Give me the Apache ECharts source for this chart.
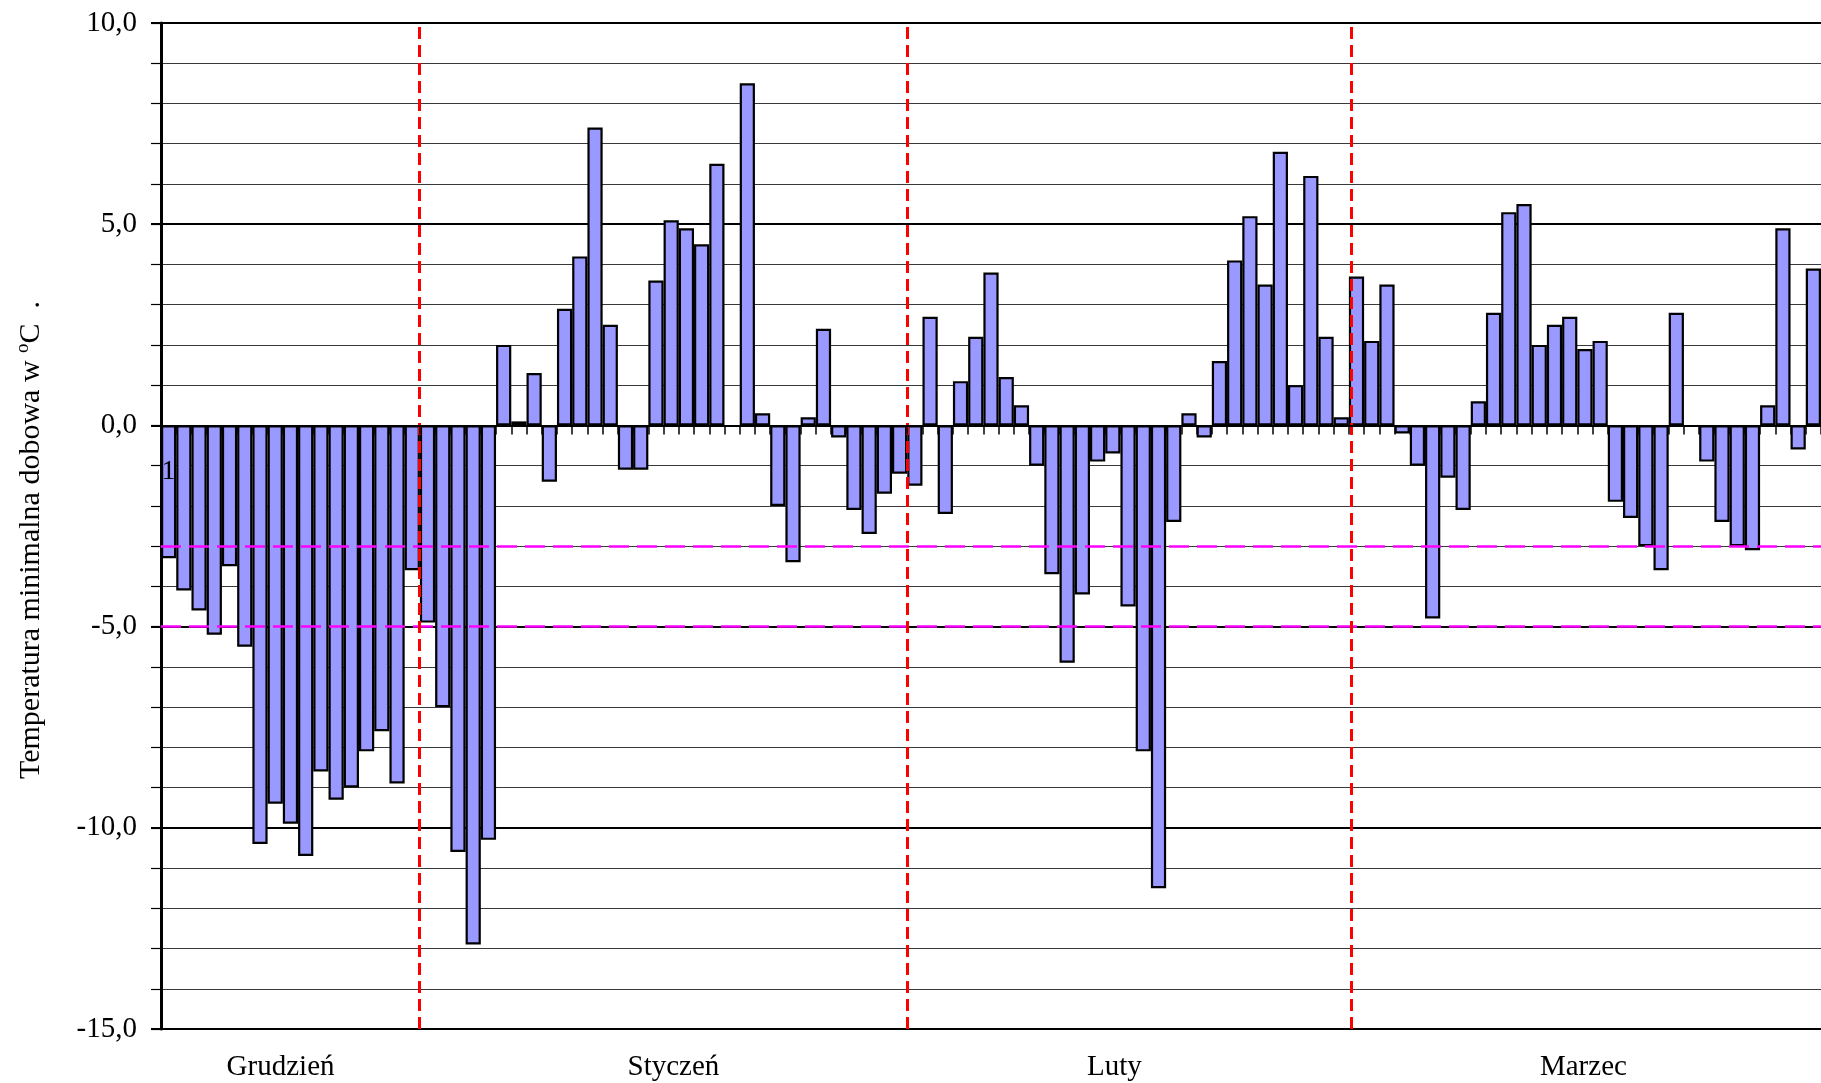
<!DOCTYPE html>
<html>
<head>
<meta charset="utf-8">
<script src="https://cdn.jsdelivr.net/npm/echarts@6/dist/echarts.min.js"></script>
<style>
html, body { margin: 0; padding: 0; background: #fff; }
#chart { width: 1821px; height: 1083px; }
</style>
</head>
<body>
<div id="chart"></div>
<script>
// dobowe temperatury minimalne, po kolei od pierwszego słupka
const decTemps = [-3.3, -4.1, -4.6, -5.2, -3.5, -5.5, -10.4, -9.4, -9.9, -10.7, -8.6, -9.3, -9.0, -8.1, -7.6, -8.9, -3.6]
const janTemps = [-4.9, -7.0, -10.6, -12.9, -10.3, 2.0, 0.1, 1.3, -1.4, 2.9, 4.2, 7.4, 2.5, -1.1, -1.1, 3.6,
  5.1, 4.9, 4.5, 6.5, null, 8.5, 0.3, -2.0, -3.4, 0.2, 2.4, -0.3, -2.1, -2.7, -1.7, -1.2]
const febTemps = [-1.5, 2.7, -2.2, 1.1, 2.2, 3.8, 1.2, 0.5, -1.0, -3.7, -5.9, -4.2, -0.9, -0.7, -4.5, -8.1,
  -11.5, -2.4, 0.3, -0.3, 1.6, 4.1, 5.2, 3.5, 6.8, 1.0, 6.2, 2.2, 0.2]
const marTemps = [3.7, 2.1, 3.5, -0.2, -1.0, -4.8, -1.3, -2.1, 0.6, 2.8, 5.3, 5.5, 2.0, 2.5, 2.7, 1.9,
  2.1, -1.9, -2.3, -3.0, -3.6, 2.8, null, -0.9, -2.4, -3.0, -3.1, 0.5, 4.9, -0.6, 3.9]

const temps = decTemps.concat(janTemps, febTemps, marTemps)
const days = temps.map((v, i) => String(i + 1))

const monthNames = ['Grudzień', 'Styczeń', 'Luty', 'Marzec']
const monthLabelPos = [7.85, 33.65, 62.6, 93.4]   // środek napisu, w jednostkach słupków
const monthBorders = [16.95, 49.0, 78.15]          // czerwone linie
const thresholds = [-3, -5]                         // linie różowe

const yTicks = { min: -15, max: 10, major: 5, minor: 1 }

const serif = '"Liberation Serif", "Times New Roman", serif'
const fmt = v => v.toFixed(1).replace('.', ',')

const chart = echarts.init(document.getElementById('chart'))
chart.setOption({
  animation: false,
  backgroundColor: '#fff',
  grid: { left: 161, top: 23, bottom: 54, right: -2, containLabel: false },
  xAxis: [
    {
      // oś na zerze - tylko kreski
      type: 'category',
      data: days,
      z: 5,
      axisLine: { onZero: true, lineStyle: { color: '#000', width: 2 } },
      axisTick: { show: true, length: 9, interval: 0, lineStyle: { color: '#000', width: 1.5 } },
      axisLabel: { show: false },
      splitLine: { show: false },
    },
    {
      type: 'value',
      min: 0,
      max: temps.length,
      position: 'bottom',
      axisLine: { onZero: false, lineStyle: { color: '#000', width: 2 } },
      axisTick: { show: false },
      splitLine: { show: false },
      axisLabel: {
        customValues: monthLabelPos,
        formatter: (v) => monthNames[monthLabelPos.indexOf(v)] || '',
        margin: 24,
        fontFamily: serif,
        fontSize: 29,
        color: '#000',
      },
    },
  ],
  yAxis: [
    {
      type: 'value',
      position: 'left',
      min: yTicks.min,
      max: yTicks.max,
      interval: yTicks.major,
      z: 2,
      axisLine: { show: true, lineStyle: { color: '#000', width: 3 } },
      axisTick: { show: true, length: 10, lineStyle: { color: '#000', width: 2 } },
      axisLabel: { formatter: fmt, margin: 24, fontFamily: serif, fontSize: 29, color: '#000' },
      splitLine: { show: true, lineStyle: { color: '#000', width: 2 } },
    },
    {
      type: 'value',
      position: 'left',
      min: yTicks.min,
      max: yTicks.max,
      interval: yTicks.minor,
      z: 1,
      axisLine: { show: false },
      axisTick: { show: true, length: 10, lineStyle: { color: '#000', width: 1.2 } },
      axisLabel: { show: false },
      splitLine: { show: true, lineStyle: { color: '#3a3a3a', width: 1 } },
    },
  ],
  series: [
    {
      type: 'bar',
      xAxisIndex: 0,
      yAxisIndex: 0,
      data: temps,
      barCategoryGap: '0%',
      itemStyle: { color: '#9999FF', borderColor: '#000', borderWidth: 2.2 },
      markLine: {
        silent: true,
        symbol: 'none',
        label: { show: false },
        lineStyle: { color: '#FF00FF', type: [20, 8], width: 2.5 },
        data: thresholds.map(v => ({ yAxis: v })),
      },
    },
    {
      type: 'line',
      xAxisIndex: 1,
      yAxisIndex: 0,
      data: [],
      markLine: {
        silent: true,
        symbol: 'none',
        label: { show: false },
        lineStyle: { color: '#FF0000', type: [12, 6], width: 3 },
        data: monthBorders.map(v => ({ xAxis: v })),
      },
    },
  ],
})

// etykieta "1" pierwszej kategorii i opis osi Y
const p0 = chart.convertToPixel({ xAxisIndex: 0, yAxisIndex: 0 }, [0, 0])
const yMid = chart.convertToPixel({ yAxisIndex: 0 }, (yTicks.min + yTicks.max) / 2)
const yLeft = chart.convertToPixel({ xAxisIndex: 1 }, 0)
chart.setOption({
  graphic: [
    {
      type: 'text',
      z: 100,
      x: p0[0],
      y: p0[1] + 46,
      style: {
        text: days[0],
        font: '28px ' + serif,
        fill: '#000',
        align: 'center',
        verticalAlign: 'middle',
      },
    },
    {
      type: 'text',
      z: 100,
      x: yLeft - 130,
      y: yMid + 14,
      rotation: Math.PI / 2,
      style: {
        text: '{t|Temperatura minimalna dobowa w }{sup|o}{t|C  .}',
        font: '30px ' + serif,
        fill: '#000',
        align: 'center',
        verticalAlign: 'middle',
        rich: {
          t: { font: '30px ' + serif, fill: '#000', lineHeight: 34 },
          sup: { font: '19px ' + serif, fill: '#000', verticalAlign: 'top', padding: [0, 0, 15, 0] },
        },
      },
    },
  ],
})
</script>
</body>
</html>
